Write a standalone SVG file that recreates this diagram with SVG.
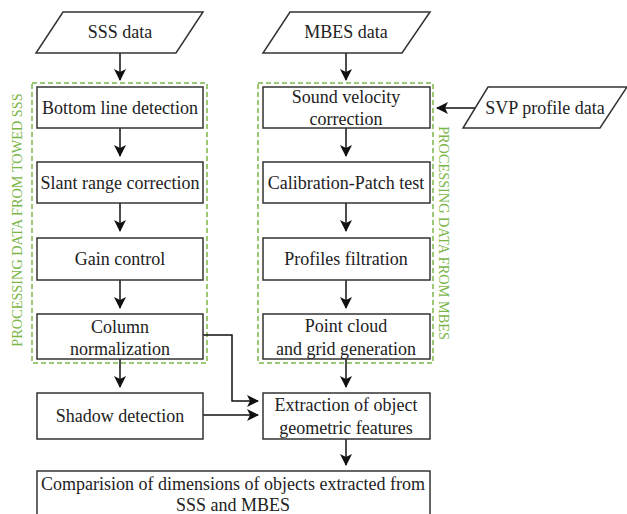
<svg xmlns="http://www.w3.org/2000/svg" width="627" height="514" viewBox="0 0 627 514">
<style>
.box{fill:#fff;stroke:#333;stroke-width:1.5}
.t{font-family:'Liberation Serif','Times New Roman','DejaVu Serif',serif;font-size:18px;fill:#222;text-anchor:middle}
.grp{fill:none;stroke:#7ab648;stroke-width:1.5;stroke-dasharray:5,3}
.gl{font-family:'Liberation Serif','Times New Roman','DejaVu Serif',serif;font-size:14.3px;fill:#7ab648;text-anchor:middle}
.c{fill:none;stroke:#111;stroke-width:1.5;marker-end:url(#ah)}
</style>
<defs>
<marker id="ah" viewBox="0 0 12 12" refX="11" refY="6" markerWidth="12" markerHeight="12" markerUnits="userSpaceOnUse" orient="auto">
<path d="M0,0 L12,6 L0,12 L3,6 Z" fill="#111"/>
</marker>
</defs>
<rect width="627" height="514" fill="#fff"/>
<g id="group-sss">
<rect class="grp" x="32" y="83" width="175" height="280"/>
<text class="gl" transform="translate(22,220) rotate(-90)">PROCESSING DATA FROM TOWED SSS</text>
</g>
<g id="group-mbes">
<rect class="grp" x="258" y="83" width="175" height="280"/>
<text class="gl" transform="translate(439,233) rotate(90)">PROCESSING DATA FROM MBES</text>
</g>
<g id="connectors">
<path class="c" d="M120,53 V80"/>
<path class="c" d="M120,128 V156"/>
<path class="c" d="M120,203 V231"/>
<path class="c" d="M120,280 V308"/>
<path class="c" d="M120,359 V387"/>
<path class="c" d="M346,53 V80"/>
<path class="c" d="M346,128 V156"/>
<path class="c" d="M346,203 V231"/>
<path class="c" d="M346,280 V308"/>
<path class="c" d="M346,359 V387"/>
<path class="c" d="M346,439 V465"/>
<path class="c" d="M476,108 H437"/>
<path class="c" d="M203,335 H232 V401 H258"/>
<path class="c" d="M203,415 H258"/>
</g>
<g id="sss-data">
<polygon class="box" points="63,12 203,12 176,53 36,53"/>
<text class="t" x="120" y="38">SSS data</text>
</g>
<g id="bottom-line">
<rect class="box" x="37" y="87" width="166" height="41"/>
<text class="t" x="120" y="114">Bottom line detection</text>
</g>
<g id="slant-range">
<rect class="box" x="37" y="162" width="166" height="41"/>
<text class="t" x="120" y="189">Slant range correction</text>
</g>
<g id="gain-control">
<rect class="box" x="37" y="238" width="166" height="42"/>
<text class="t" x="120" y="265">Gain control</text>
</g>
<g id="column-norm">
<rect class="box" x="37" y="314" width="166" height="45"/>
<text class="t" x="120" y="333">Column</text>
<text class="t" x="120" y="355">normalization</text>
</g>
<g id="shadow">
<rect class="box" x="37" y="393" width="166" height="46"/>
<text class="t" x="120" y="422">Shadow detection</text>
</g>
<g id="mbes-data">
<polygon class="box" points="290,12 430,12 402,53 263,53"/>
<text class="t" x="346" y="38">MBES data</text>
</g>
<g id="svp">
<polygon class="box" points="488,87 627,87 600,128 463,128"/>
<text class="t" x="545" y="114">SVP profile data</text>
</g>
<g id="sound-velocity">
<rect class="box" x="263" y="87" width="167" height="41"/>
<text class="t" x="346" y="103">Sound velocity</text>
<text class="t" x="346" y="125">correction</text>
</g>
<g id="calibration">
<rect class="box" x="263" y="162" width="167" height="41"/>
<text class="t" x="346" y="189">Calibration-Patch test</text>
</g>
<g id="profiles">
<rect class="box" x="263" y="238" width="167" height="42"/>
<text class="t" x="346" y="265">Profiles filtration</text>
</g>
<g id="point-cloud">
<rect class="box" x="263" y="314" width="167" height="45"/>
<text class="t" x="346" y="332">Point cloud</text>
<text class="t" x="346" y="355">and grid generation</text>
</g>
<g id="extraction">
<rect class="box" x="263" y="393" width="167" height="46"/>
<text class="t" x="346" y="411">Extraction of object</text>
<text class="t" x="346" y="434">geometric features</text>
</g>
<g id="comparison">
<rect class="box" x="37" y="471" width="393" height="50"/>
<text class="t" x="233" y="490">Comparision of dimensions of objects extracted from</text>
<text class="t" x="233" y="511">SSS and MBES</text>
</g>
</svg>
